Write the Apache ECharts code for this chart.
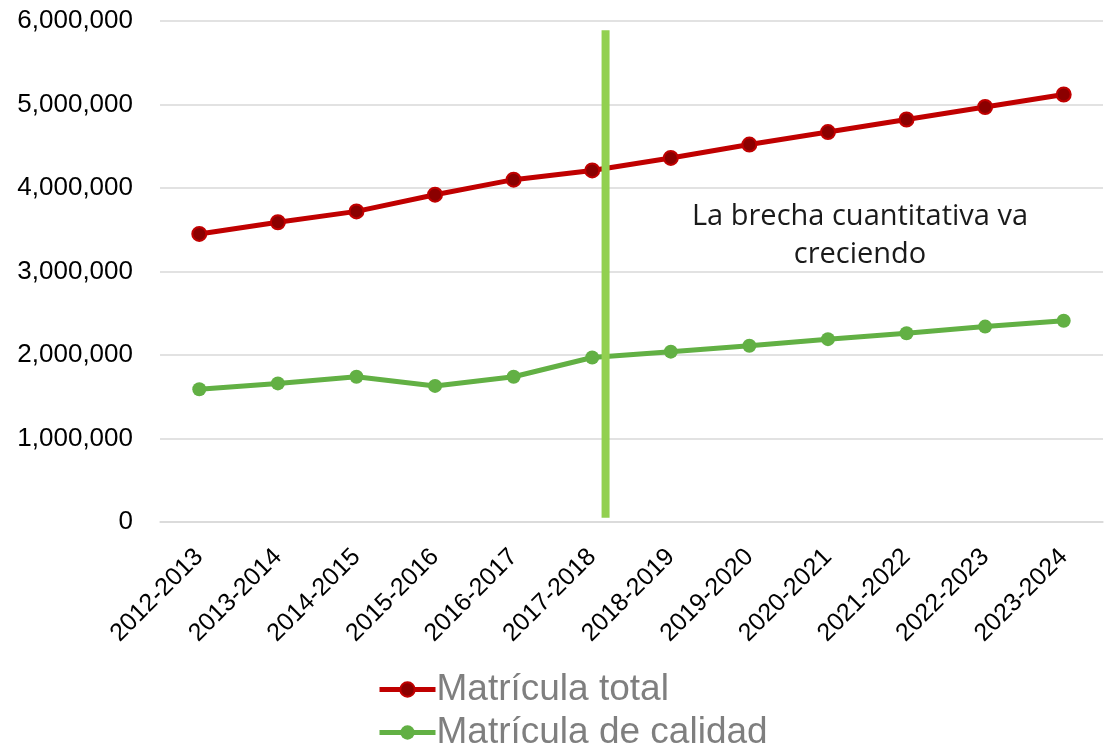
<!DOCTYPE html>
<html>
<head>
<meta charset="utf-8">
<script src="https://cdn.jsdelivr.net/npm/echarts@6/dist/echarts.min.js"></script>
<style>html,body{margin:0;padding:0;background:#fff}#c{width:1105px;height:745px}</style>
</head>
<body>
<div id="c"></div>
<script>
const categories = ['2012-2013','2013-2014','2014-2015','2015-2016','2016-2017','2017-2018','2018-2019','2019-2020','2020-2021','2021-2022','2022-2023','2023-2024'];
const matriculaTotal = [3450000,3590000,3720000,3920000,4100000,4210000,4360000,4520000,4670000,4820000,4970000,5120000];
const matriculaCalidad = [1590000,1660000,1740000,1630000,1740000,1970000,2040000,2110000,2190000,2260000,2340000,2410000];
const gapLine = [[5.17, 50000],[5.17, 5890000]];
const annotation = 'La brecha cuantitativa va\ncreciendo';

const chart = echarts.init(document.getElementById('c'));
const fmt = v => v.toString().replace(/\B(?=(\d{3})+(?!\d))/g, ',');
chart.setOption({
  animation: false,
  backgroundColor: '#fff',
  grid: {left: 160, right: 2, top: 21, bottom: 223},
  legend: {
    data: ['Matrícula total','Matrícula de calidad'],
    orient: 'vertical', left: 377, top: 671, height: 80, padding: 0, itemGap: 6,
    itemWidth: 56, itemHeight: 18,
    lineStyle: {width: 5},
    textStyle: {fontFamily: 'Liberation Sans, Arial', fontSize: 37, lineHeight: 34, color: '#7f7f7f', padding: [0,0,0,-4]}
  },
  xAxis: [{
    type: 'category', data: categories, boundaryGap: true,
    axisLine: {lineStyle: {color: '#d9d9d9', width: 1.5}},
    axisTick: {show: false},
    axisLabel: {rotate: 45, fontFamily: 'Liberation Sans, Arial', fontSize: 25, color: '#000', margin: 31, interval: 0}
  }, {
    type: 'value', min: -0.5, max: 11.5, show: false
  }],
  yAxis: {
    type: 'value', min: 0, max: 6000000, interval: 1000000,
    axisLine: {show: false}, axisTick: {show: false},
    splitLine: {lineStyle: {color: '#d9d9d9', width: 1.5}},
    axisLabel: {formatter: fmt, fontFamily: 'Liberation Sans, Arial', fontSize: 26, color: '#000', margin: 27}
  },
  series: [{
    name: 'gap', type: 'line', xAxisIndex: 1, data: gapLine, symbol: 'none', silent: true,
    lineStyle: {color: '#92D050', width: 8}, z: 3
  }, {
    name: 'Matrícula total', type: 'line', data: matriculaTotal,
    symbol: 'circle', symbolSize: 14,
    lineStyle: {color: '#C00000', width: 5},
    itemStyle: {color: '#8B0000', borderColor: '#C00000', borderWidth: 2}, z: 2
  }, {
    name: 'Matrícula de calidad', type: 'line', data: matriculaCalidad,
    symbol: 'circle', symbolSize: 14,
    lineStyle: {color: '#62B044', width: 5},
    itemStyle: {color: '#62B044'}, z: 2
  }],
  graphic: [{
    type: 'text', x: 860, y: 198,
    style: {text: annotation, fontFamily: 'Open Sans', fontSize: 29, fill: '#1a1a1a', align: 'center', lineHeight: 38}
  }]
});
</script>
</body>
</html>
